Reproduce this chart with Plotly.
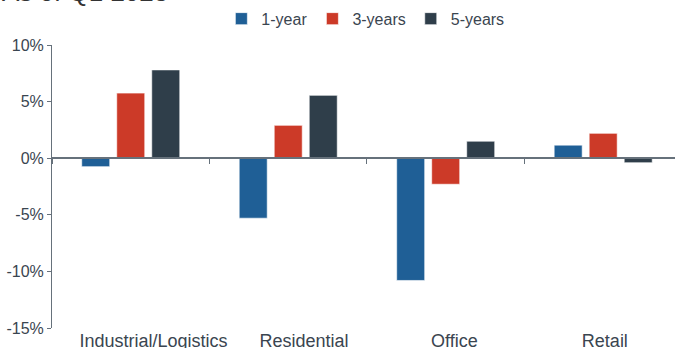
import plotly.graph_objects as go

categories = ["Industrial/Logistics", "Residential", "Office", "Retail"]
series_names = ["1-year", "3-years", "5-years"]
one_year = [-0.75, -5.3, -10.8, 1.15]
three_years = [5.75, 2.9, -2.3, 2.2]
five_years = [7.8, 5.55, 1.5, -0.4]
colors = ["#1f5f96", "#cc3a28", "#2f3e4a"]
y_ticks = [10, 5, 0, -5, -10, -15]
y_tick_labels = ["10%", "5%", "0%", "-5%", "-10%", "-15%"]
title_text = "As of Q1 2023"

font_family = "Arial, Liberation Sans, sans-serif"
text_color = "#3a4550"
axis_color = "#66717b"

fig = go.Figure()
for name, vals, col in zip(series_names, [one_year, three_years, five_years], colors):
    fig.add_trace(go.Bar(
        x=categories, y=vals, name=name,
        marker=dict(color=col, line=dict(color="rgba(255,255,255,0.6)", width=1)),
    ))

# invisible carrier for the category labels axis
fig.add_trace(go.Scatter(
    x=categories, y=[None] * len(categories), xaxis="x2", mode="markers",
    showlegend=False, hoverinfo="skip", marker=dict(opacity=0),
))

fig.update_layout(
    width=675, height=348,
    margin=dict(l=52, r=0, t=45, b=20, autoexpand=False),
    paper_bgcolor="white", plot_bgcolor="white",
    font=dict(family=font_family, size=16, color=text_color),
    barmode="group", bargap=0.333, bargroupgap=0.2,
    showlegend=True,
    legend=dict(orientation="h", x=0.503, xanchor="center", y=0.995, yanchor="top",
                yref="container", font=dict(size=16, color=text_color),
                itemwidth=30, tracegroupgap=0),
    xaxis=dict(
        type="category", categoryorder="array", categoryarray=categories,
        range=[-0.5, 3.456], anchor="free", position=0.6,
        showticklabels=False, automargin=False,
        tickson="boundaries", ticks="outside", ticklen=5, tickcolor=axis_color,
        showline=True, linecolor=axis_color, linewidth=1.5,
        showgrid=False, zeroline=False,
    ),
    xaxis2=dict(
        type="category", categoryorder="array", categoryarray=categories,
        overlaying="x", anchor="y", side="bottom",
        range=[-0.674, 3.466], automargin=False,
        showline=False, ticks="", showgrid=False, zeroline=False,
        tickfont=dict(size=18, color=text_color),
    ),
    yaxis=dict(
        range=[-15, 10], tickvals=y_ticks, ticktext=y_tick_labels,
        ticks="outside", ticklen=4, tickcolor=axis_color, automargin=False,
        showline=True, linecolor=axis_color, linewidth=1,
        showgrid=False, zeroline=False,
        tickfont=dict(size=16, color=text_color),
    ),
)

fig.add_annotation(
    text=title_text, xref="paper", yref="paper",
    x=-52 / 623, y=1.127, xanchor="left", yanchor="bottom",
    showarrow=False, font=dict(size=26, color="#333333", family=font_family),
)

fig.write_html("out.html")
